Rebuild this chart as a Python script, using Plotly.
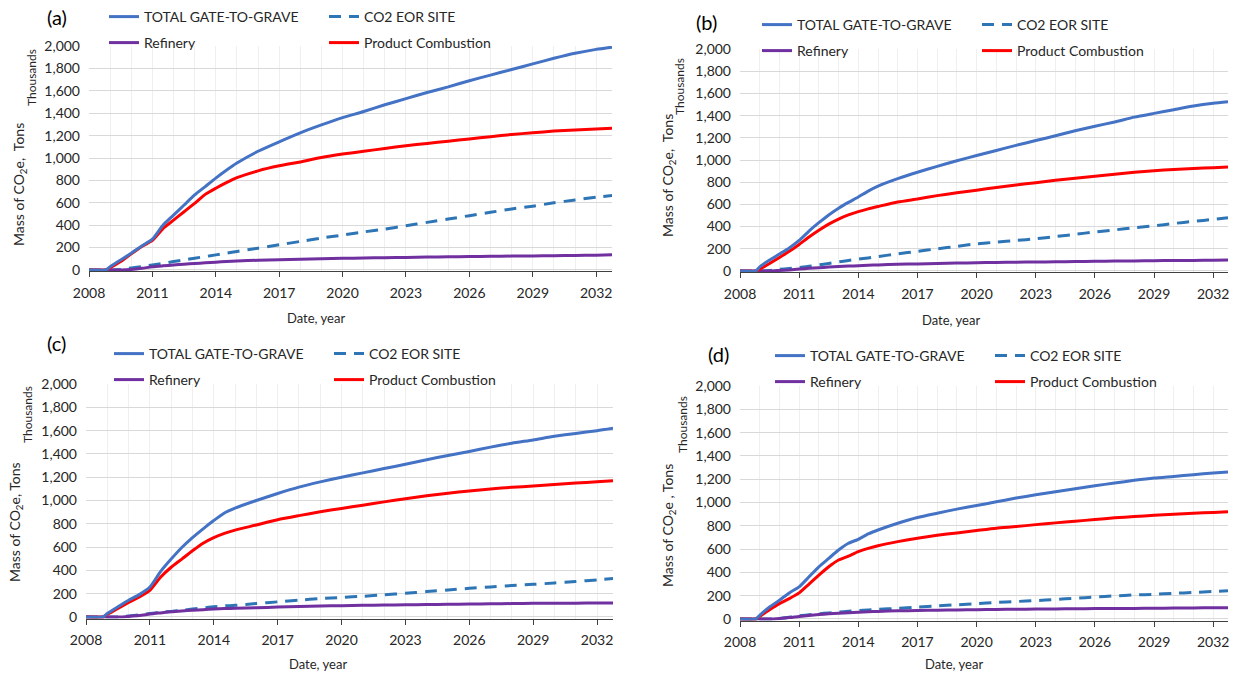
import plotly.graph_objects as go

W, H = 1242, 674

# Time axis (decimal years) shared by all four scenarios
YEARS = [2008, 2008.8, 2009, 2009.5, 2010, 2010.5, 2011, 2011.5, 2012, 2012.5,
         2013, 2013.5, 2014, 2014.5, 2015, 2016, 2017, 2018, 2019, 2020, 2021,
         2022, 2023, 2024, 2025, 2026, 2027, 2028, 2029, 2030, 2031, 2032, 2032.75]

X_TICKS = [2008, 2011, 2014, 2017, 2020, 2023, 2026, 2029, 2032]
Y_TICKS = [0, 200, 400, 600, 800, 1000, 1200, 1400, 1600, 1800, 2000]

NAMES = ["TOTAL GATE-TO-GRAVE", "CO2 EOR SITE", "Refinery", "Product Combustion"]

# Cumulative mass of CO2e, thousands of tons
A_TOTAL = [0, 0, 30, 90, 150, 215, 275, 400, 490, 580, 670, 745, 820, 890, 955, 1060,
           1145, 1225, 1295, 1360, 1415, 1475, 1530, 1585, 1635, 1690, 1740, 1790,
           1840, 1890, 1935, 1970, 1990]
A_EOR = [0, 0, 0, 5, 18, 30, 45, 60, 75, 90, 105, 120, 135, 150, 165, 195, 225, 255,
         285, 312, 340, 365, 395, 425, 455, 485, 515, 545, 570, 600, 625, 650, 665]
A_REFINERY = [0, 0, 0, 0, 5, 15, 28, 37, 45, 52, 58, 64, 70, 75, 80, 87, 92, 97, 100,
              104, 107, 110, 112, 115, 118, 120, 122, 124, 126, 128, 130, 132, 135]
A_COMBUSTION = [0, 0, 20, 75, 145, 210, 265, 370, 445, 520, 595, 675, 730, 780, 825,
                885, 930, 965, 1005, 1035, 1060, 1085, 1110, 1130, 1150, 1170, 1190,
                1210, 1225, 1240, 1250, 1260, 1265]

B_TOTAL = [0, 0, 37, 98, 153, 208, 275, 360, 435, 505, 566, 618, 667, 720, 765, 832,
           890, 943, 993, 1040, 1086, 1132, 1175, 1218, 1264, 1304, 1343, 1386, 1420,
           1453, 1487, 1512, 1525]
B_EOR = [0, 0, 0, 5, 15, 22, 30, 42, 55, 68, 82, 95, 107, 118, 130, 155, 177, 200, 222,
         245, 260, 275, 290, 310, 330, 352, 370, 390, 407, 428, 447, 465, 480]
B_REFINERY = [0, 0, 0, 0, 5, 10, 18, 24, 30, 35, 40, 44, 48, 52, 55, 60, 64, 68, 71, 74,
              77, 79, 81, 83, 85, 87, 89, 91, 93, 94, 95, 97, 100]
B_COMBUSTION = [0, 0, 15, 67, 122, 177, 239, 306, 367, 422, 468, 505, 535, 560, 581,
                621, 649, 679, 704, 728, 753, 774, 796, 817, 835, 854, 872, 890, 903,
                915, 924, 930, 936]

C_TOTAL = [0, 0, 30, 88, 144, 192, 257, 390, 497, 596, 681, 757, 828, 893, 935, 1000,
           1060, 1115, 1160, 1200, 1237, 1274, 1311, 1350, 1387, 1421, 1458, 1492, 1520,
           1551, 1576, 1599, 1620]
C_EOR = [0, 0, 0, 0, 8, 18, 30, 40, 48, 58, 68, 78, 88, 95, 100, 115, 130, 145, 158, 168,
         178, 190, 203, 218, 232, 246, 258, 270, 280, 292, 305, 318, 330]
C_REFINERY = [0, 0, 0, 0, 5, 12, 25, 35, 45, 52, 58, 63, 68, 72, 75, 80, 85, 90, 94, 97,
              100, 102, 105, 107, 109, 111, 113, 115, 117, 118, 119, 120, 121]
C_COMBUSTION = [0, 0, 23, 73, 124, 172, 229, 342, 427, 497, 568, 633, 681, 718, 746,
                790, 835, 870, 903, 932, 960, 988, 1015, 1040, 1062, 1082, 1099, 1113,
                1124, 1138, 1150, 1161, 1170]

D_TOTAL = [0, 0, 32, 103, 161, 224, 276, 362, 448, 520, 592, 650, 684, 730, 764, 822,
           871, 908, 943, 974, 1006, 1038, 1066, 1092, 1118, 1144, 1167, 1190, 1210,
           1224, 1239, 1253, 1262]
D_EOR = [0, 0, 0, 0, 5, 15, 28, 36, 45, 52, 60, 66, 72, 77, 82, 92, 102, 112, 122, 132,
         142, 150, 158, 168, 178, 188, 198, 206, 212, 220, 228, 236, 242]
D_REFINERY = [0, 0, 0, 0, 5, 12, 22, 30, 38, 44, 50, 54, 58, 62, 65, 70, 73, 76, 78, 80,
              82, 84, 85, 86, 88, 89, 90, 91, 92, 94, 95, 96, 97]
D_COMBUSTION = [0, 0, 23, 80, 132, 175, 224, 299, 376, 448, 506, 540, 578, 606, 629,
                664, 693, 718, 739, 759, 779, 793, 810, 825, 839, 854, 868, 879, 891,
                900, 908, 914, 920]

COLORS = {"total": "#4472C4", "eor": "#2E75B6", "refinery": "#7030A0", "combustion": "#FF0000"}
FONT = "Lato, 'Open Sans', sans-serif"
TEXT = "#262626"


def px_x(px):
    return px / W


def px_y(py):
    return 1 - py / H


# Panel geometry in pixels: plot left/right, y of the 2,000 line and of the zero line
PANELS = [
    dict(tag="(a)", data=(A_TOTAL, A_EOR, A_REFINERY, A_COMBUSTION),
         box=(89, 612, 46, 270), label=(57, 17), xtitle=(316, 318), ytitle=(19, 185),
         thousands=(31, 78), legend=(107, 17), ytext="Mass of CO<sub>2</sub>e,  Tons"),
    dict(tag="(b)", data=(B_TOTAL, B_EOR, B_REFINERY, B_COMBUSTION),
         box=(740, 1228, 49, 271), label=(706, 22), xtitle=(951, 320), ytitle=(668, 175),
         thousands=(680, 87), legend=(760, 25), ytext="Mass of CO<sub>2</sub>e,  Tons"),
    dict(tag="(c)", data=(C_TOTAL, C_EOR, C_REFINERY, C_COMBUSTION),
         box=(86, 613, 384, 617), label=(56, 343), xtitle=(318, 664), ytitle=(15, 522),
         thousands=(27, 415), legend=(112, 354), ytext="Mass of CO<sub>2</sub>e, Tons"),
    dict(tag="(d)", data=(D_TOTAL, D_EOR, D_REFINERY, D_COMBUSTION),
         box=(740, 1228, 386, 619), label=(718, 354), xtitle=(954, 664), ytitle=(668, 525),
         thousands=(683, 425), legend=(773, 356), ytext="Mass of CO<sub>2</sub>e , Tons"),
]

Y_MIN = -13  # keeps the full stroke width of lines lying on zero visible

fig = go.Figure()
layout = dict(
    width=W, height=H, margin=dict(l=0, r=0, t=0, b=0),
    paper_bgcolor="white", plot_bgcolor="white",
    font=dict(family=FONT, size=14, color=TEXT),
    annotations=[],
)

for i, p in enumerate(PANELS):
    n = "" if i == 0 else str(i + 1)
    xa, ya = "x" + n, "y" + n
    left, right, top, zero = p["box"]
    zero_shift = (zero - top) * (-Y_MIN) / (2000 - Y_MIN)

    layout["xaxis" + n] = dict(
        domain=[px_x(left), px_x(right)], anchor=ya, range=[2008, 2032.75],
        tickvals=X_TICKS, ticks="outside", ticklen=5, tickcolor="#404040",
        showline=True, linecolor="#404040", linewidth=1,
        showgrid=True, gridcolor="#EFEFEF", gridwidth=1,
        minor=dict(dtick=1, tick0=2008, showgrid=True, gridcolor="#EFEFEF", ticks=""),
        zeroline=False, automargin=False, fixedrange=True,
        tickfont=dict(size=14, color=TEXT), ticklabelstandoff=4,
    )
    layout["yaxis" + n] = dict(
        domain=[px_y(zero + zero_shift), px_y(top)], anchor=xa, range=[Y_MIN, 2000],
        tickvals=Y_TICKS, tickformat=",", ticks="", showline=False,
        showgrid=True, gridcolor="#D9D9D9", gridwidth=1, zeroline=False,
        automargin=False, fixedrange=True,
        tickfont=dict(size=14, color=TEXT), ticklabelstandoff=8,
    )

    leg_top = "legend" if i == 0 else "legend" + str(2 * i + 1)
    leg_bot = "legend" + str(2 * i + 2)
    total, eor, refinery, combustion = p["data"]
    specs = [
        (NAMES[0], total, COLORS["total"], "solid", leg_top),
        (NAMES[1], eor, COLORS["eor"], "12px,8px", leg_top),
        (NAMES[2], refinery, COLORS["refinery"], "solid", leg_bot),
        (NAMES[3], combustion, COLORS["combustion"], "solid", leg_bot),
    ]
    # draw order: CO2 EOR and refinery below the two main curves
    for name, vals, color, dash, leg in [specs[1], specs[2], specs[3], specs[0]]:
        fig.add_trace(go.Scatter(
            x=YEARS, y=vals, name=name, mode="lines", xaxis=xa, yaxis=ya,
            line=dict(color=color, width=3, dash=dash, shape="spline", smoothing=0.6),
            legend=leg,
            legendrank={NAMES[0]: 1, NAMES[1]: 2, NAMES[2]: 3, NAMES[3]: 4}[name],
        ))

    lx, ly = p["legend"]
    for k, leg in enumerate([leg_top, leg_bot]):
        layout[leg] = dict(
            x=px_x(lx - 3), y=px_y(ly - 16 + 26 * k), xanchor="left", yanchor="top",
            orientation="h", entrywidth=175, entrywidthmode="pixels",
            bgcolor="rgba(0,0,0,0)", borderwidth=0, traceorder="normal",
            font=dict(family=FONT, size=14, color=TEXT), itemclick=False,
            itemdoubleclick=False,
        )

    layout["annotations"] += [
        dict(text=p["tag"], x=px_x(p["label"][0]), y=px_y(p["label"][1]),
             xref="paper", yref="paper", showarrow=False, xanchor="center",
             yanchor="middle", font=dict(size=20, color="#000000")),
        dict(text="Date, year", x=px_x(p["xtitle"][0]), y=px_y(p["xtitle"][1]),
             xref="paper", yref="paper", showarrow=False, xanchor="center",
             yanchor="middle", font=dict(size=13, color=TEXT)),
        dict(text=p["ytext"], x=px_x(p["ytitle"][0]), y=px_y(p["ytitle"][1]),
             xref="paper", yref="paper", showarrow=False, textangle=-90,
             xanchor="center", yanchor="middle", font=dict(size=14, color=TEXT)),
        dict(text="Thousands", x=px_x(p["thousands"][0]), y=px_y(p["thousands"][1]),
             xref="paper", yref="paper", showarrow=False, textangle=-90,
             xanchor="center", yanchor="middle", font=dict(size=12, color=TEXT)),
    ]

fig.update_layout(**layout)
fig.write_html("out.html", config=dict(displayModeBar=False))
